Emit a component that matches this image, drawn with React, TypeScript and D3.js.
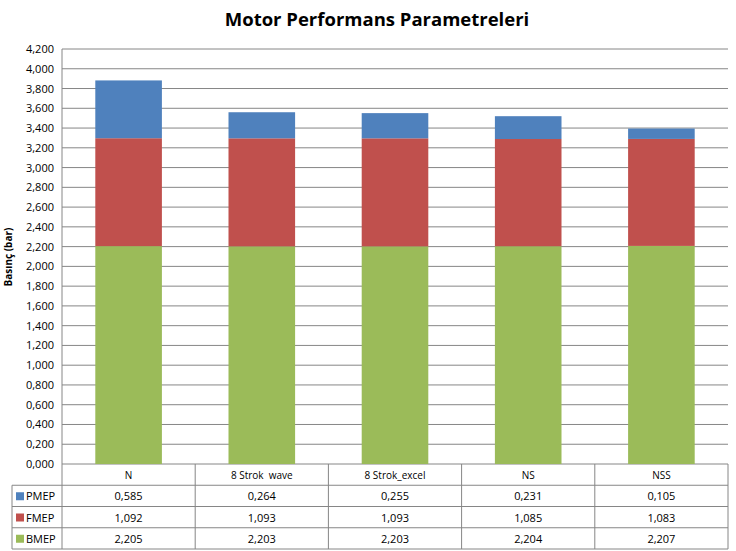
import * as d3 from "d3";

const categories = ["N", "8 Strok  wave", "8 Strok_excel", "NS", "NSS"];
const bmep = [2.205, 2.203, 2.203, 2.204, 2.207];
const fmep = [1.092, 1.093, 1.093, 1.085, 1.083];
const pmep = [0.585, 0.264, 0.255, 0.231, 0.105];
const yTicks = d3.range(0, 4.2001, 0.2);

const seriesNames = ["BMEP", "FMEP", "PMEP"];
const colors: Record<string, string> = {
  BMEP: "#9BBB59",
  FMEP: "#C0504D",
  PMEP: "#4F81BD",
};
// table rows top-to-bottom
const tableRows = [
  { name: "PMEP", values: pmep },
  { name: "FMEP", values: fmep },
  { name: "BMEP", values: bmep },
];

const width = 736;
const height = 551;
const left = 62;
const right = 728;
const top = 49;
const bottom = 464;
const rowH = 21.25;
const tableLeft = 12;
const font = "'Open Sans', 'DejaVu Sans', sans-serif";
const gridColor = "#868686";

const fmt = (v: number) => v.toFixed(3).replace(".", ",");

export default function App() {
  const x = d3.scaleBand().domain(categories).range([left, right]).paddingInner(0).paddingOuter(0);
  const y = d3.scaleLinear().domain([0, 4.2]).range([bottom, top]);

  const rows = categories.map((c, i) => ({ cat: c, BMEP: bmep[i], FMEP: fmep[i], PMEP: pmep[i] }));
  const stacked = d3.stack<any>().keys(seriesNames)(rows);
  const barW = x.bandwidth() * 0.5;

  return (
    <svg
      width={width}
      height={height}
      style={{ position: "fixed", left: 0, top: 0, display: "block", background: "#fff" }}
    >
      <text x={377} y={26} textAnchor="middle" fontFamily={font} fontWeight="bold" fontSize={18.5} fill="#000">
        Motor Performans Parametreleri
      </text>
      <text
        transform={`translate(12,257) rotate(-90)`}
        textAnchor="middle"
        fontFamily={font}
        fontWeight="bold"
        fontSize={10}
      >
        Basınç (bar)
      </text>
      {yTicks.map((t) => (
        <g key={t.toFixed(1)}>
          <line x1={left} x2={right} y1={y(t)} y2={y(t)} stroke={gridColor} strokeWidth={1} />
          <text x={54} y={y(t) + 4} textAnchor="end" fontFamily={font} fontSize={11} fill="#000">
            {fmt(t)}
          </text>
        </g>
      ))}
      <line x1={left} x2={left} y1={top} y2={bottom} stroke={gridColor} />
      {stacked.map((s) =>
        s.map((d, i) => (
          <rect
            key={s.key + i}
            x={(x(categories[i]) as number) + (x.bandwidth() - barW) / 2}
            y={y(d[1])}
            width={barW}
            height={y(d[0]) - y(d[1])}
            fill={colors[s.key]}
          />
        ))
      )}
      {/* data table */}
      <g fontFamily={font} fill="#000">
        {categories.map((c) => (
          <text
            key={c}
            x={(x(c) as number) + x.bandwidth() / 2}
            y={bottom + 14.5}
            textAnchor="middle"
            fontSize={10}
            style={{ whiteSpace: "pre" }}
          >
            {c}
          </text>
        ))}
        {tableRows.map((r, ri) => (
          <g key={r.name}>
            <rect x={tableLeft + 4} y={bottom + rowH * (ri + 1) + 7} width={8} height={8} fill={colors[r.name]} />
            <text x={tableLeft + 14} y={bottom + rowH * (ri + 1) + 15} fontSize={11}>
              {r.name}
            </text>
            {r.values.map((v, i) => (
              <text
                key={i}
                x={(x(categories[i]) as number) + x.bandwidth() / 2}
                y={bottom + rowH * (ri + 1) + 15}
                textAnchor="middle"
                fontSize={11}
              >
                {fmt(v)}
              </text>
            ))}
          </g>
        ))}
      </g>
      <g stroke={gridColor} fill="none">
        {categories.map((c) => (
          <line key={c} x1={x(c)} x2={x(c)} y1={bottom} y2={bottom + rowH * 4} />
        ))}
        <line x1={right} x2={right} y1={bottom} y2={bottom + rowH * 4} />
        <line x1={tableLeft} x2={tableLeft} y1={bottom + rowH} y2={bottom + rowH * 4} />
        {[1, 2, 3, 4].map((k) => (
          <line key={k} x1={tableLeft} x2={right} y1={bottom + rowH * k} y2={bottom + rowH * k} />
        ))}
      </g>
    </svg>
  );
}
